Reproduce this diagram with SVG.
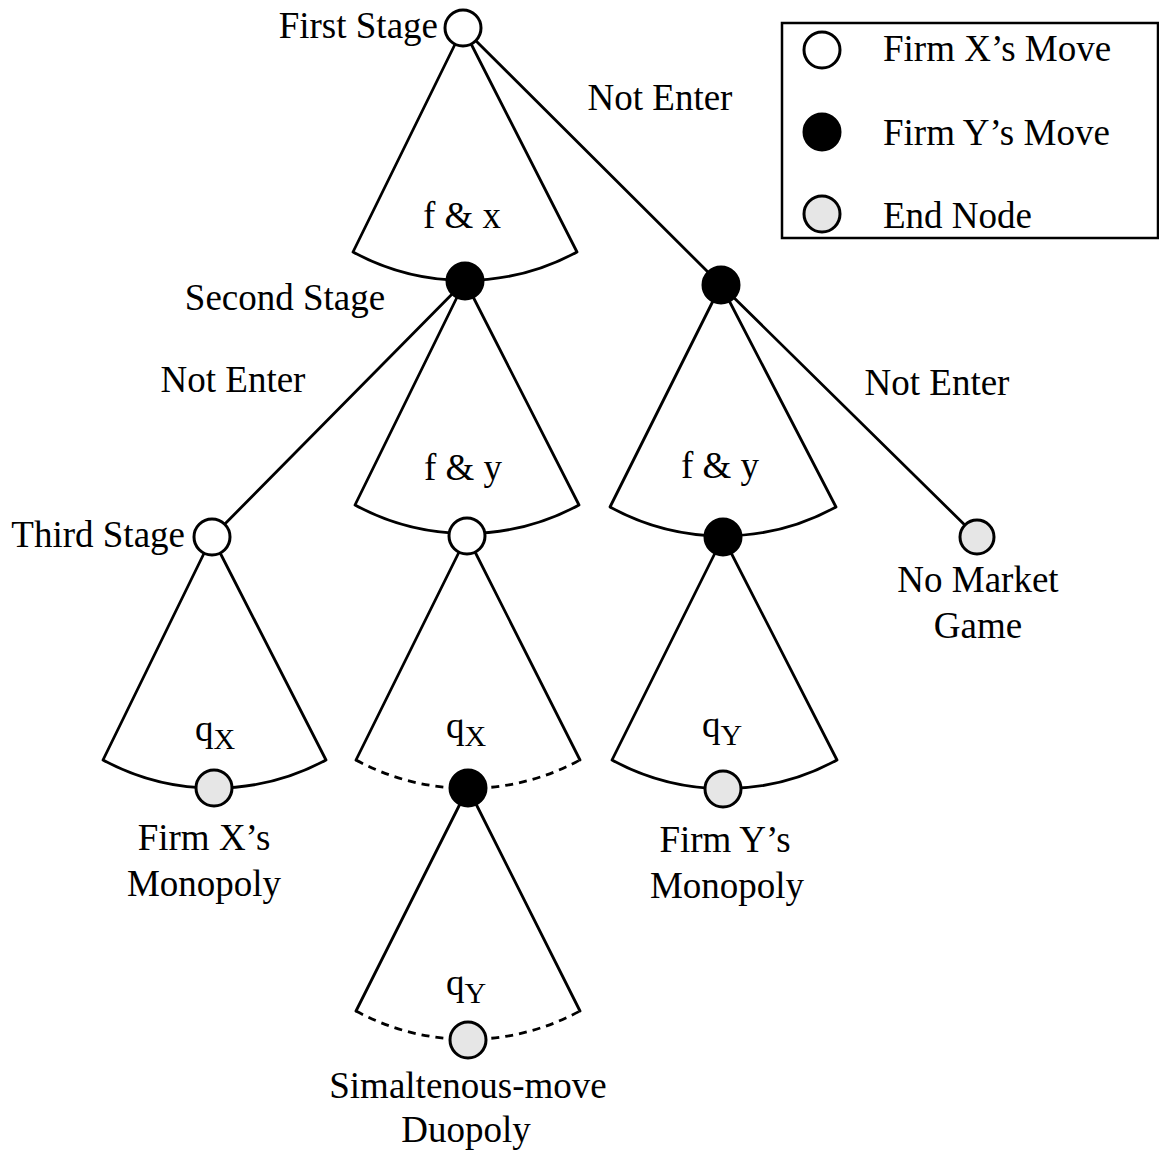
<svg xmlns="http://www.w3.org/2000/svg" width="1159" height="1153" viewBox="0 0 1159 1153">
<style>
text{font-family:"Liberation Serif","Times New Roman",serif;font-size:37px;fill:#000}
.ln{fill:none;stroke:#000;stroke-width:2.8;stroke-linecap:round;stroke-linejoin:round}
.dash{stroke-dasharray:8 6;stroke-linecap:butt}
.wx{fill:#fff;stroke:#000;stroke-width:3}
.by{fill:#000;stroke:#000;stroke-width:3}
.en{fill:#e6e6e6;stroke:#000;stroke-width:3}
.sub{font-size:30px}
</style>
<rect width="1159" height="1153" fill="#fff"/>
<g id="connectors">
  <path class="ln" d="M463 28 L353 252 A235 235 0 0 0 577 252 L463 28"/>
  <path class="ln" d="M463 28 L721 285"/>
  <path class="ln" d="M465 281 L212 537"/>
  <path class="ln" d="M465 281 L355 505 A235 235 0 0 0 579 505 L465 281"/>
  <path class="ln" d="M721 285 L610 507 A235 235 0 0 0 836 507 L721 285"/>
  <path class="ln" d="M721 285 L977 537"/>
  <path class="ln" d="M212 537 L103 760 A235 235 0 0 0 326 760 L212 537"/>
  <path class="ln" d="M356 760 L467 536 L580 760"/>
  <path class="ln dash" d="M356 760 A235 235 0 0 0 580 760"/>
  <path class="ln" d="M723 537 L612 760 A235 235 0 0 0 837 760 L723 537"/>
  <path class="ln" d="M356 1011 L468 788 L580 1011"/>
  <path class="ln dash" d="M356 1011 A235 235 0 0 0 580 1011"/>
</g>
<g id="n1"><circle class="wx" cx="463" cy="28" r="18"/><text x="438" y="38" text-anchor="end">First Stage</text></g>
<g id="n2"><circle class="by" cx="465" cy="281" r="18"/><text x="285" y="310" text-anchor="middle">Second Stage</text></g>
<g id="n3"><circle class="by" cx="721" cy="285" r="18"/></g>
<g id="n4"><circle class="wx" cx="212" cy="537" r="18"/><text x="185" y="547" text-anchor="end">Third Stage</text></g>
<g id="n5"><circle class="wx" cx="467" cy="536" r="18"/></g>
<g id="n6"><circle class="by" cx="723" cy="537" r="18"/></g>
<g id="n7"><circle class="en" cx="977" cy="537" r="17"/><text x="978" y="592" text-anchor="middle">No Market</text><text x="978" y="638" text-anchor="middle">Game</text></g>
<g id="n8"><circle class="en" cx="214" cy="788" r="18"/><text x="204" y="850" text-anchor="middle">Firm X’s</text><text x="204" y="896" text-anchor="middle">Monopoly</text></g>
<g id="n9"><circle class="by" cx="468" cy="788" r="18"/></g>
<g id="n10"><circle class="en" cx="723" cy="789" r="18"/><text x="725" y="852" text-anchor="middle">Firm Y’s</text><text x="727" y="898" text-anchor="middle">Monopoly</text></g>
<g id="n11"><circle class="en" cx="468" cy="1040" r="18"/><text x="468" y="1098" text-anchor="middle">Simaltenous-move</text><text x="466" y="1142" text-anchor="middle">Duopoly</text></g>
<g id="labels">
  <text x="660" y="110" text-anchor="middle">Not Enter</text>
  <text x="462" y="228" text-anchor="middle">f &amp; x</text>
  <text x="233" y="392" text-anchor="middle">Not Enter</text>
  <text x="463" y="480" text-anchor="middle">f &amp; y</text>
  <text x="937" y="395" text-anchor="middle">Not Enter</text>
  <text x="720" y="478" text-anchor="middle">f &amp; y</text>
  <text x="215" y="741" text-anchor="middle">q<tspan class="sub" dy="8">X</tspan></text>
  <text x="466" y="738" text-anchor="middle">q<tspan class="sub" dy="8">X</tspan></text>
  <text x="722" y="737" text-anchor="middle">q<tspan class="sub" dy="8">Y</tspan></text>
  <text x="466" y="995" text-anchor="middle">q<tspan class="sub" dy="8">Y</tspan></text>
</g>
<g id="legend">
  <rect x="782" y="23" width="376" height="215" fill="#fff" stroke="#000" stroke-width="2.5"/>
  <circle class="wx" cx="822" cy="50" r="18"/>
  <text x="883" y="61">Firm X’s Move</text>
  <circle class="by" cx="822" cy="132" r="18"/>
  <text x="883" y="145">Firm Y’s Move</text>
  <circle class="en" cx="822" cy="214" r="18"/>
  <text x="883" y="228">End Node</text>
</g>
</svg>
